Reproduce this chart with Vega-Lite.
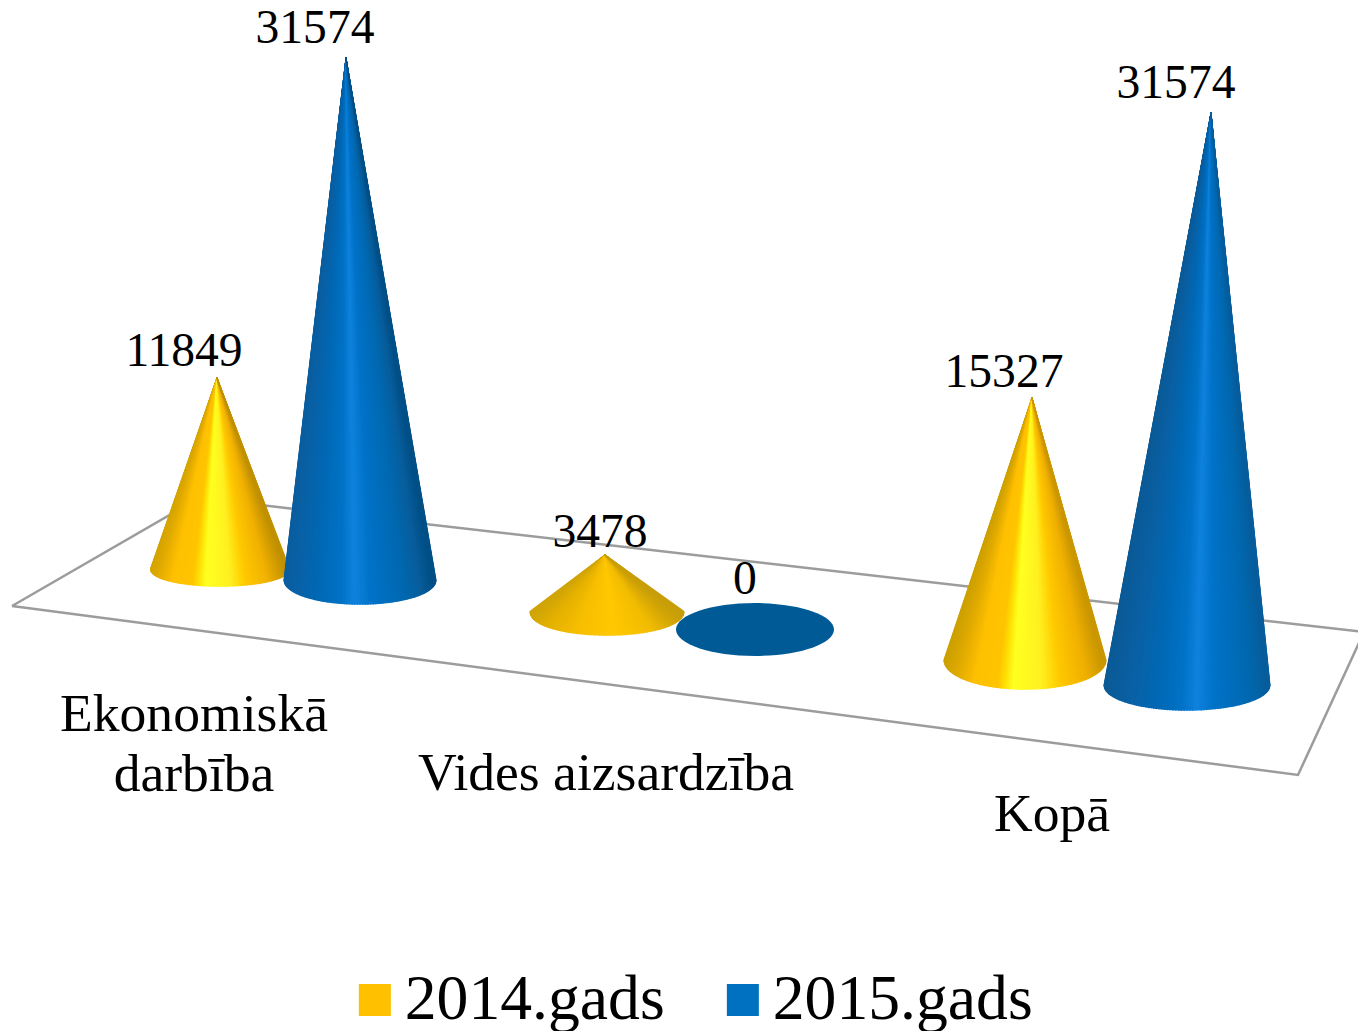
{
"$schema":"https://vega.github.io/schema/vega-lite/v6.json",
"width":1358,"height":1031,"padding":0,"autosize":{"type":"none"},"background":"white",
"config":{"view":{"stroke":null}},
"datasets":{"cones":[
{"category":"Ekonomiskā darbība","year":"2014.gads","value":11849},
{"category":"Ekonomiskā darbība","year":"2015.gads","value":31574},
{"category":"Vides aizsardzība","year":"2014.gads","value":3478},
{"category":"Vides aizsardzība","year":"2015.gads","value":0},
{"category":"Kopā","year":"2014.gads","value":15327},
{"category":"Kopā","year":"2015.gads","value":31574}
],"floor":[{"corner":"front-left"},{"corner":"front-right"},{"corner":"back-right"},{"corner":"back-left"},{"corner":"front-left"}]},
"encoding":{
"x":{"field":"px","type":"quantitative","scale":{"domain":[0,1358],"nice":false,"zero":false},"axis":null},
"y":{"field":"py","type":"quantitative","scale":{"domain":[1031,0],"nice":false,"zero":false},"axis":null}
},
"resolve":{"scale":{"color":"independent"}},
"layer":[
{"data":{"name":"floor"},
 "transform":[{"window":[{"op":"row_number","as":"n"}]},
 {"calculate":"[12,1298,1364,199,12][datum.n-1]","as":"px"},
 {"calculate":"[606,775,632,498,606][datum.n-1]","as":"py"}],
 "mark":{"type":"line","color":"#9C9C9C","strokeWidth":2.5},
 "encoding":{"order":{"field":"n","type":"quantitative"}}},
{"data":{"name":"cones"},
 "transform":[
 {"calculate":"indexof(['Ekonomiskā darbība','Vides aizsardzība','Kopā'],datum.category)","as":"i"},
 {"calculate":"datum.year=='2014.gads'?0:1","as":"j"},
 {"calculate":"[[220,360],[607,755],[1025,1187]][datum.i][datum.j]","as":"px"},
 {"calculate":"[[570,580],[612,629],[660,685]][datum.i][datum.j]","as":"py"}],
 "mark":{"type":"point","filled":true,"shape":"square","size":100,"opacity":1},
 "encoding":{"color":{"field":"year","type":"nominal","scale":{"domain":["2014.gads","2015.gads"],"range":["#FFC000","#0070C0"]},
 "legend":{"orient":"none","legendX":343,"legendY":968,"direction":"horizontal","title":null,"symbolType":"square","symbolSize":1024,"symbolStrokeWidth":0,"symbolOpacity":1,"labelFont":"Liberation Serif","labelFontSize":63.7,"labelColor":"black","labelOffset":-2,"labelLimit":500,"columnPadding":46}}}},
{"data":{"name":"cones"},
 "transform":[{"filter":"datum.value==0"},{"calculate":"755","as":"px"},{"calculate":"629.5","as":"py"}],
 "mark":{"type":"point","filled":true,"opacity":1,"color":"#005A96","shape":"M-1,0A1,0.335 0 1,0 1,0A1,0.335 0 1,0 -1,0Z","size":24964,"strokeWidth":0}},
{"data":{"name":"cones"},
 "transform":[{"filter":"datum.value>0 && datum.year=='2014.gads' && datum.category!='Vides aizsardzība'"},
 {"calculate":"indexof(['Ekonomiskā darbība','Vides aizsardzība','Kopā'],datum.category)","as":"i"},
 {"calculate":"[220,607,1025][datum.i]","as":"cx"},
 {"calculate":"[569,612,660][datum.i]","as":"cy"},
 {"calculate":"[70,77.5,81.5][datum.i]","as":"rx"},
 {"calculate":"[18,24,30][datum.i]","as":"ry"},
 {"calculate":"[217,605,1032][datum.i]","as":"ax"},
 {"calculate":"datum.cy-datum.value*[0.016120,0.016389,0.017094][datum.i]","as":"ay"},
 {"calculate":"sequence(0,91)","as":"fan"},{"flatten":["fan"]},
 {"calculate":"[0,1]","as":"part"},{"flatten":["part"]},
 {"calculate":"-PI/2+PI*datum.fan/90","as":"th"},
 {"calculate":"(sin(datum.th)+1)/2-[0,0,0.03][datum.i]","as":"u"},
 {"calculate":"datum.part==0?datum.ax:datum.cx+(datum.rx-2)*sin(datum.th)","as":"px"},
 {"calculate":"datum.part==0?datum.ay:datum.cy+(datum.ry-2)*cos(datum.th)","as":"py"},
 {"calculate":"datum.part==0?0:4","as":"w"},
 {"calculate":"datum.category+datum.fan","as":"key"}],
 "mark":{"type":"trail"},
 "encoding":{"detail":{"field":"key"},"order":{"field":"part","type":"quantitative"},
 "size":{"field":"w","type":"quantitative","scale":null},
 "color":{"field":"u","type":"quantitative","legend":null,"scale":{"domain":[-0.03,0.05,0.16,0.3,0.4,0.58,0.7,0.86,1],"range":["#CCA000","#E0AA00","#FFC000","#FFC400","#FFFF20","#FFF020","#FFC800","#F0B000","#C09000"]}}}},
{"data":{"name":"cones"},
 "transform":[{"filter":"datum.category=='Vides aizsardzība' && datum.year=='2014.gads'"},
 {"calculate":"607","as":"cx"},{"calculate":"612","as":"cy"},{"calculate":"77.5","as":"rx"},{"calculate":"24","as":"ry"},{"calculate":"605","as":"ax"},
 {"calculate":"datum.cy-datum.value*0.016389","as":"ay"},
 {"calculate":"sequence(0,91)","as":"fan"},{"flatten":["fan"]},
 {"calculate":"[0,1]","as":"part"},{"flatten":["part"]},
 {"calculate":"-PI/2+PI*datum.fan/90","as":"th"},
 {"calculate":"(sin(datum.th)+1)/2","as":"u"},
 {"calculate":"datum.part==0?datum.ax:datum.cx+(datum.rx-2)*sin(datum.th)","as":"px"},
 {"calculate":"datum.part==0?datum.ay:datum.cy+(datum.ry-2)*cos(datum.th)","as":"py"},
 {"calculate":"datum.part==0?0:4","as":"w"},
 {"calculate":"datum.category+datum.fan","as":"key"}],
 "mark":{"type":"trail"},
 "encoding":{"detail":{"field":"key"},"order":{"field":"part","type":"quantitative"},
 "size":{"field":"w","type":"quantitative","scale":null},
 "color":{"field":"u","type":"quantitative","legend":null,"scale":{"domain":[0,0.1,0.3,0.55,0.8,1],"range":["#D0A408","#E2B000","#F6BE00","#FFC800","#F2BC00","#C89E08"]}}}},
{"data":{"name":"cones"},
 "transform":[{"filter":"datum.value>0 && datum.year=='2015.gads'"},
 {"calculate":"indexof(['Ekonomiskā darbība','Vides aizsardzība','Kopā'],datum.category)","as":"i"},
 {"calculate":"[360,755,1187][datum.i]","as":"cx"},
 {"calculate":"[580,629,685][datum.i]","as":"cy"},
 {"calculate":"[76.5,79,83.5][datum.i]","as":"rx"},
 {"calculate":"[25,27,26][datum.i]","as":"ry"},
 {"calculate":"[346,755,1211][datum.i]","as":"ax"},
 {"calculate":"datum.cy-datum.value*[0.016533,0,0.018116][datum.i]","as":"ay"},
 {"calculate":"sequence(0,91)","as":"fan"},{"flatten":["fan"]},
 {"calculate":"[0,1]","as":"part"},{"flatten":["part"]},
 {"calculate":"-PI/2+PI*datum.fan/90","as":"th"},
 {"calculate":"(sin(datum.th)+1)/2-[0,0,0.09][datum.i]","as":"u"},
 {"calculate":"datum.part==0?datum.ax:datum.cx+(datum.rx-2)*sin(datum.th)","as":"px"},
 {"calculate":"datum.part==0?datum.ay:datum.cy+(datum.ry-2)*cos(datum.th)","as":"py"},
 {"calculate":"datum.part==0?0:4","as":"w"},
 {"calculate":"datum.category+datum.fan","as":"key"}],
 "mark":{"type":"trail"},
 "encoding":{"detail":{"field":"key"},"order":{"field":"part","type":"quantitative"},
 "size":{"field":"w","type":"quantitative","scale":null},
 "color":{"field":"u","type":"quantitative","legend":null,"scale":{"domain":[-0.09,0.06,0.22,0.38,0.47,0.58,0.8,0.92,1],"range":["#0B5A96","#0A60A4","#0068B4","#0072C6","#0F82DE","#0072C8","#0068B0","#085C9A","#004F86"]}}}},
{"data":{"name":"cones"},
 "transform":[
 {"calculate":"indexof(['Ekonomiskā darbība','Vides aizsardzība','Kopā'],datum.category)","as":"i"},
 {"calculate":"datum.year=='2014.gads'?0:1","as":"j"},
 {"calculate":"[[184,315],[600,745],[1004,1176]][datum.i][datum.j]","as":"px"},
 {"calculate":"[[366,43],[547,594],[387,98]][datum.i][datum.j]","as":"py"}],
 "mark":{"type":"text","font":"Liberation Serif","fontSize":47.6,"color":"black","baseline":"alphabetic","align":"center"},
 "encoding":{"text":{"field":"value","type":"quantitative","format":"d"}}},
{"data":{"name":"cones"},
 "transform":[{"filter":"datum.year=='2014.gads'"},
 {"calculate":"indexof(['Ekonomiskā darbība','Vides aizsardzība','Kopā'],datum.category)","as":"i"},
 {"calculate":"[194,606,1052][datum.i]","as":"px"},
 {"calculate":"[731,790,831][datum.i]","as":"py"},
 {"calculate":"datum.i==0?replace(datum.category,' ','\\n'):datum.category","as":"label"}],
 "mark":{"type":"text","font":"Liberation Serif","fontSize":53.6,"color":"black","baseline":"alphabetic","align":"center","lineBreak":"\n","lineHeight":60},
 "encoding":{"text":{"field":"label","type":"nominal"}}}
]}
